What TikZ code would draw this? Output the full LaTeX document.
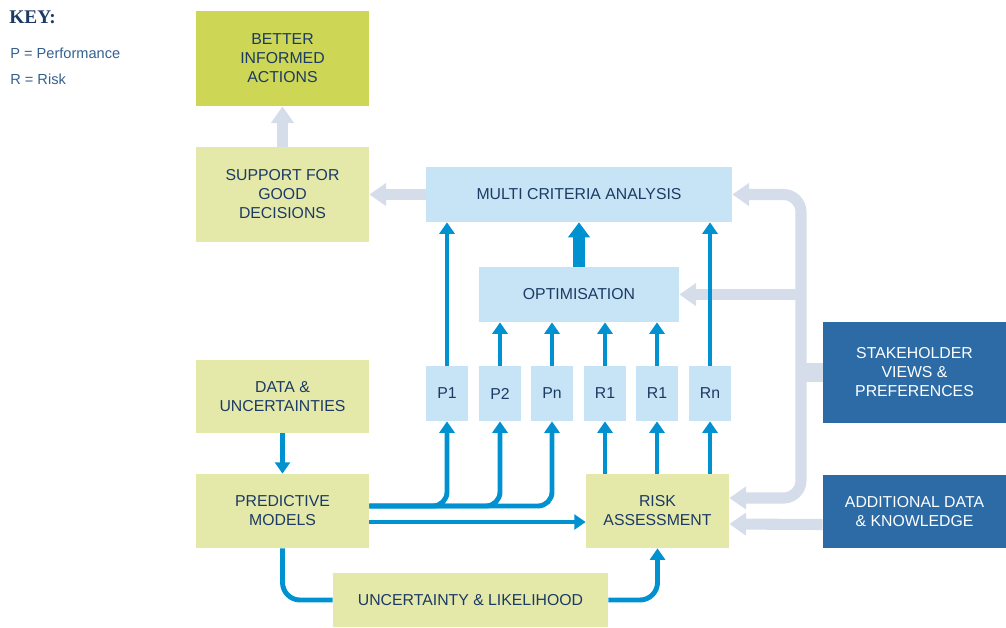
\documentclass[tikz,border=0pt]{standalone}
\usepackage{fontspec}
\setmainfont{Liberation Sans}
\newfontfamily\keyfont{Liberation Serif}
\usepackage{tikz}
\usetikzlibrary{arrows.meta,positioning}
\definecolor{actiongreen}{HTML}{CDD655}
\definecolor{paleyellow}{HTML}{E4E9AA}
\definecolor{paleblue}{HTML}{C6E4F5}
\definecolor{deepblue}{HTML}{2C6BA6}
\definecolor{flowblue}{HTML}{0092D0}
\definecolor{flowgrey}{HTML}{D5DCEA}
\definecolor{navytext}{HTML}{1B3A64}
\definecolor{keyblue}{HTML}{34608F}

\begin{document}
\begin{tikzpicture}[x=0.02cm, y=-0.02cm,
    box/.style={rectangle, inner sep=0pt, align=center, text=navytext, font=\fontsize{9}{10.8}\selectfont},
    greenbox/.style={box, fill=paleyellow, minimum width=3.46cm},
    bluebox/.style={box, fill=paleblue},
    smallbox/.style={bluebox, minimum width=0.84cm, minimum height=1.1cm},
    darkbox/.style={box, fill=deepblue, text=white, minimum width=3.66cm},
    keytext/.style={anchor=west, inner sep=0pt, text=keyblue, font=\fontsize{8.3}{10}\selectfont},
    flowline/.style={draw=flowblue, line width=2.8pt},
    flowarrow/.style={flowline, -{Triangle[width=8.5pt,length=6.5pt]}},
    bigarrow/.style={draw=flowblue, line width=6.5pt, -{Triangle[width=12pt,length=8.5pt]}},
    greyline/.style={draw=flowgrey, line width=6.3pt},
    greyarrow/.style={greyline, -{Triangle[width=12.5pt,length=9.5pt]}}]

    \useasboundingbox (0,0) rectangle (1006,627);

    % key
    \node[keytext, text=navytext, font=\keyfont\bfseries\fontsize{11}{13}\selectfont] (key) at (9,17) {KEY:};
    \node[keytext] (key_p) at (10,53) {P = Performance};
    \node[keytext] (key_r) at (10,79) {R = Risk};

    % left column
    \node[greenbox, fill=actiongreen, minimum height=1.9cm] (actions) at (282.5,58.5) {BETTER\\INFORMED\\ACTIONS};
    \node[greenbox, minimum height=1.9cm] (support) at (282.5,194.5) {SUPPORT FOR\\GOOD\\DECISIONS};
    \node[greenbox, minimum height=1.46cm] (data) at (282.5,396.5) {DATA \&\\UNCERTAINTIES};
    \node[greenbox, minimum height=1.48cm] (predictive) at (282.5,511) {PREDICTIVE\\MODELS};

    % analysis blocks
    \node[bluebox, minimum width=6.12cm, minimum height=1.1cm] (mca) at (579,194.5) {MULTI CRITERIA ANALYSIS};
    \node[bluebox, minimum width=4cm, minimum height=1.1cm] (optim) at (579,294.5) {OPTIMISATION};
    \foreach \name/\lbl/\xx in {p1/P1/447, p2/P2/500, pn/Pn/552, r1a/R1/605, r1b/R1/657, rn/Rn/710}
        \node[smallbox] (\name) at (\xx,393.5) {\lbl};
    \node[greenbox, minimum width=2.86cm, minimum height=1.48cm] (risk) at (657.5,511) {RISK\\ASSESSMENT};
    \node[greenbox, minimum width=5.5cm, minimum height=1.08cm] (uncert) at (470.5,600) {UNCERTAINTY \& LIKELIHOOD};

    % inputs on the right
    \node[darkbox, minimum height=2.02cm] (stake) at (914.5,372.5) {STAKEHOLDER\\VIEWS \&\\PREFERENCES};
    \node[darkbox, minimum height=1.46cm] (extra) at (914.5,511.5) {ADDITIONAL DATA\\\& KNOWLEDGE};
    \coordinate (trunk) at (801,372.5);

    % grey flows
    \draw[greyarrow] (support.north) -- (actions.south);
    \draw[greyarrow] (mca.west) -- (support.east);
    \draw[draw=flowgrey, line width=11pt] (stake.west) -- (trunk);
    \draw[greyline, rounded corners=10pt, {Triangle[width=12.5pt,length=9.5pt]}-{Triangle[width=12.5pt,length=9.5pt]}]
        ([yshift=0.26cm]risk.east) -| (trunk) |- (mca.east);
    \draw[greyarrow] (trunk |- optim.east) -- (optim.east);
    \draw[greyarrow] ([yshift=-0.26cm]extra.west) -- ([yshift=-0.26cm]risk.east);

    % blue flows
    \draw[flowarrow] (data.south) -- (predictive.north);
    \foreach \name in {p1,p2,pn}
        \draw[flowarrow, rounded corners=8pt] ([yshift=0.1cm]predictive.east) -| (\name.south);
    \draw[flowarrow] ([yshift=-0.22cm]predictive.east) -- ([yshift=-0.22cm]risk.west);
    \draw[flowline, rounded corners=10pt] (predictive.south) |- (uncert.west);
    \draw[flowarrow, rounded corners=10pt] (uncert.east) -| (risk.south);
    \foreach \name in {r1a,r1b,rn}
        \draw[flowarrow] (\name.south |- risk.north) -- (\name.south);
    \foreach \name in {p2,pn,r1a,r1b}
        \draw[flowarrow] (\name.north) -- (\name.north |- optim.south);
    \draw[flowarrow] (p1.north) -- (p1.north |- mca.south);
    \draw[flowarrow] (rn.north) -- (rn.north |- mca.south);
    \draw[bigarrow] (optim.north) -- (mca.south);
\end{tikzpicture}
\end{document}
